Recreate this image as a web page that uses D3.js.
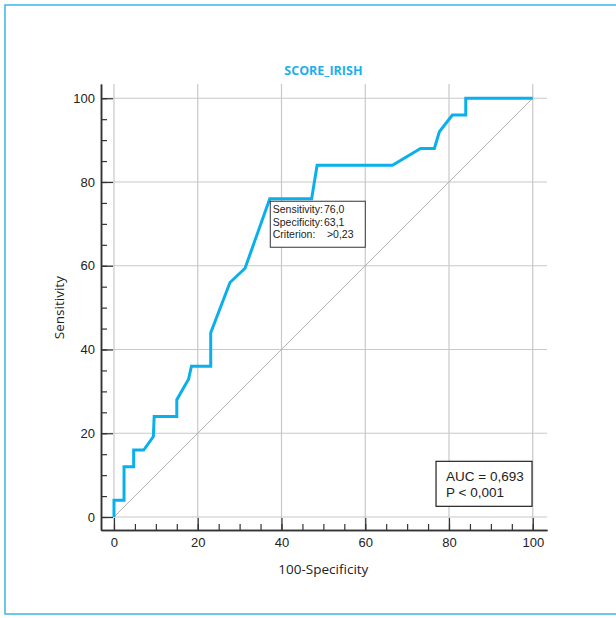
<!DOCTYPE html>
<html>
<head>
<meta charset="utf-8">
<script src="https://cdn.jsdelivr.net/npm/d3@7"></script>
<style>
  body { margin: 0; background: #fff; }
  svg { display: block; font-family: "Open Sans", "Noto Sans", sans-serif; }
</style>
</head>
<body>
<div id="chart"></div>
<script>
// ROC curve points (100-Specificity, Sensitivity)
const fpr = [0, 0, 2.4, 2.4, 4.7, 4.7, 7.1, 9.4, 9.6, 15, 15, 17.8, 18.5, 23.1, 23.1, 27.7, 31.3, 37.2, 47.2, 48.5, 66.5, 73.2, 76.5, 77.7, 80.8, 84, 84, 100];
const tpr = [0, 4, 4, 12, 12, 16, 16, 19.2, 24, 24, 28, 32.9, 36, 36, 44, 56, 59.4, 76, 76, 84, 84, 88, 88, 92, 96, 96, 100, 100];
const majorTicks = [0, 20, 40, 60, 80, 100];
const minorTicks = d3.range(0, 101, 5);
const criterionLines = ["Sensitivity:", "Specificity:", "Criterion:"];
const criterionValues = ["76,0", "63,1", ">0,23"];
const statLines = ["AUC = 0,693", "P < 0,001"];

const W = 616, H = 618;
const svg = d3.select("#chart").append("svg")
    .attr("width", W)
    .attr("height", H);

// outer frame
svg.append("rect")
    .attr("x", 5).attr("y", 5)
    .attr("width", W + 10).attr("height", 609)
    .attr("fill", "none")
    .attr("stroke", "#3db5e6")
    .attr("stroke-width", 1.5);

const x = d3.scaleLinear().domain([-3.1, 103.4]).range([101, 547]);
const y = d3.scaleLinear().domain([-3.1, 103.4]).range([530, 84]);

// grid
svg.append("g").selectAll("line")
    .data(majorTicks).enter().append("line")
    .attr("x1", d => x(d)).attr("x2", d => x(d))
    .attr("y1", y.range()[1]).attr("y2", y.range()[0])
    .attr("stroke", "#c8c8c8").attr("stroke-width", 1.2);
svg.append("g").selectAll("line")
    .data(majorTicks).enter().append("line")
    .attr("y1", d => y(d)).attr("y2", d => y(d))
    .attr("x1", x.range()[0]).attr("x2", x.range()[1])
    .attr("stroke", "#c8c8c8").attr("stroke-width", 1.2);

// diagonal reference
svg.append("line")
    .attr("x1", x(0)).attr("y1", y(0))
    .attr("x2", x(100)).attr("y2", y(100))
    .attr("stroke", "#b4b4b4").attr("stroke-width", 1);

// axes - minor ticks first, then major with labels
function styleAxis(g) {
    g.select(".domain").attr("stroke", "#333").attr("stroke-width", 1.5);
    g.selectAll(".tick line").attr("stroke", "#333").attr("stroke-width", 1.2);
    g.selectAll("text").attr("fill", "#222").style("font-size", "13px");
}

svg.append("g")
    .attr("transform", `translate(0,${y.range()[0]})`)
    .call(d3.axisBottom(x).tickValues(minorTicks).tickSizeInner(-6).tickSizeOuter(0).tickFormat(""))
    .call(styleAxis);
svg.append("g")
    .attr("transform", `translate(0,${y.range()[0]})`)
    .call(d3.axisBottom(x).tickValues(majorTicks).tickSizeInner(-12).tickSizeOuter(0).tickPadding(8))
    .call(styleAxis);

svg.append("g")
    .attr("transform", `translate(${x.range()[0]},0)`)
    .call(d3.axisLeft(y).tickValues(minorTicks).tickSizeInner(-6).tickSizeOuter(0).tickFormat(""))
    .call(styleAxis);
svg.append("g")
    .attr("transform", `translate(${x.range()[0]},0)`)
    .call(d3.axisLeft(y).tickValues(majorTicks).tickSizeInner(-12).tickSizeOuter(0).tickPadding(6))
    .call(styleAxis);

// axis titles
svg.append("text")
    .attr("x", (x(0) + x(100)) / 2).attr("y", 574)
    .attr("text-anchor", "middle")
    .style("font-size", "13.5px").attr("fill", "#222")
    .text("100-Specificity");
svg.append("text")
    .attr("transform", "rotate(-90)")
    .attr("x", -(y(0) + y(100)) / 2).attr("y", 64)
    .attr("text-anchor", "middle")
    .style("font-size", "13.5px").attr("fill", "#222")
    .text("Sensitivity");

// title
svg.append("text")
    .attr("x", (x(0) + x(100)) / 2).attr("y", 75)
    .attr("text-anchor", "middle")
    .style("font-size", "12.5px").style("font-weight", "bold")
    .attr("fill", "#1cb0e8")
    .text("SCORE_IRISH");

// ROC curve
const pts = fpr.map((d, i) => [d, tpr[i]]);
svg.append("path")
    .datum(pts)
    .attr("fill", "none")
    .attr("stroke", "#0ab0ec")
    .attr("stroke-width", 3)
    .attr("stroke-linejoin", "miter")
    .attr("d", d3.line().x(d => x(d[0])).y(d => y(d[1])));

// criterion box
const cb = svg.append("g").attr("transform", `translate(${x(37.2)},${y(76)})`);
cb.append("rect")
    .attr("x", 0.5).attr("y", 2.5).attr("width", 95).attr("height", 46)
    .attr("fill", "#fff").attr("stroke", "#333").attr("stroke-width", 1);
const lines = criterionLines.map((t, i) => {
    const tx = cb.append("text")
        .attr("x", 3).attr("y", 14.5 + i * 12.3)
        .style("font-family", "'Liberation Sans', Arial, sans-serif")
        .style("font-size", "10.5px").attr("fill", "#222");
    tx.append("tspan").attr("class", "lab").text(t);
    return tx;
});
const colX = 3 + d3.max(lines, l => l.select(".lab").node().getComputedTextLength()) + 1;
lines.forEach((tx, i) => {
    tx.append("tspan")
        .attr("x", i === 2 ? colX + 3 : colX)
        .text(criterionValues[i]);
});

// AUC box
const ab = svg.append("g").attr("transform", `translate(${x(76.9)},${y(13.3)})`);
ab.append("rect")
    .attr("x", 0).attr("y", 0).attr("width", 96).attr("height", 45)
    .attr("fill", "#fff").attr("stroke", "#222").attr("stroke-width", 1.2);
statLines.forEach((t, i) => {
    ab.append("text")
        .attr("x", 10).attr("y", 20 + i * 16)
        .style("font-family", "'Liberation Sans', Arial, sans-serif")
        .style("font-size", "13.5px").attr("fill", "#222")
        .text(t);
});
</script>
</body>
</html>
